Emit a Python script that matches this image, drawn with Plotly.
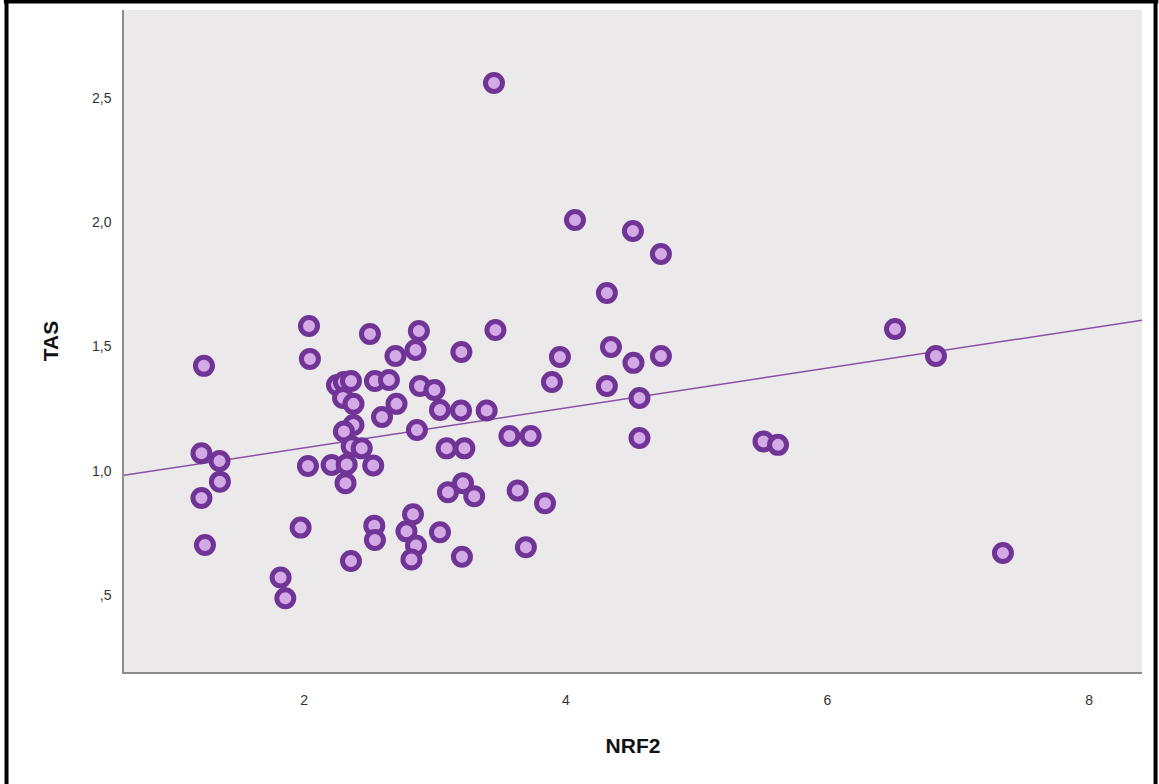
import numpy as np
import plotly.graph_objects as go

# NRF2 (x) and TAS (y) values
nrf2 = [3.451, 4.070, 4.513, 4.727, 4.314, 2.037, 2.503, 2.877, 3.462, 6.516,
        1.234, 2.044, 2.698, 2.851, 3.202, 3.955, 4.345, 4.517, 4.727, 6.829,
        2.251, 2.304, 2.358, 2.541, 2.648, 2.297, 2.377, 2.595, 2.706, 2.885,
        2.996, 3.038, 3.199, 3.395, 3.894, 4.314, 4.563, 2.377, 2.304, 2.862,
        2.363, 2.440, 3.089, 3.225, 3.569, 3.731, 4.563, 5.511, 5.622, 1.215,
        1.353, 1.356, 1.215, 1.242, 2.029, 2.210, 2.325, 2.528, 2.316, 3.214,
        3.099, 3.300, 3.632, 3.841, 1.973, 2.536, 2.541, 2.832, 2.782, 2.855,
        2.820, 3.038, 3.206, 2.358, 3.695, 1.820, 1.856, 7.341]
tas = [2.560, 2.009, 1.965, 1.872, 1.715, 1.582, 1.550, 1.562, 1.566, 1.570,
       1.422, 1.450, 1.462, 1.486, 1.478, 1.458, 1.498, 1.434, 1.462, 1.462,
       1.345, 1.357, 1.361, 1.361, 1.365, 1.293, 1.269, 1.216, 1.269, 1.341,
       1.325, 1.244, 1.242, 1.242, 1.357, 1.341, 1.293, 1.184, 1.158, 1.164,
       1.098, 1.090, 1.090, 1.090, 1.140, 1.140, 1.132, 1.118, 1.104, 1.070,
       1.039, 0.956, 0.890, 0.701, 1.019, 1.023, 1.025, 1.021, 0.950, 0.950,
       0.913, 0.897, 0.920, 0.869, 0.771, 0.779, 0.721, 0.825, 0.756, 0.699,
       0.643, 0.752, 0.654, 0.637, 0.692, 0.570, 0.487, 0.669]

x_tick_vals = [2, 4, 6, 8]
x_tick_text = ["2", "4", "6", "8"]
y_tick_vals = [0.5, 1.0, 1.5, 2.0, 2.5]
y_tick_text = [",5", "1,0", "1,5", "2,0", "2,5"]

x_range = [0.623, 8.404]
y_range = [0.190, 2.854]

# linear fit line across the x range
slope, intercept = np.polyfit(nrf2, tas, 1)
fit_x = np.array(x_range)
fit_y = intercept + slope * fit_x

fig = go.Figure()
fig.add_trace(go.Scatter(
    x=fit_x, y=fit_y, mode="lines",
    line=dict(color="#8A4FA8", width=1.5),
    hoverinfo="skip", showlegend=False))
fig.add_trace(go.Scatter(
    x=nrf2, y=tas, mode="markers",
    marker=dict(size=17, color="#D4AAE6",
                line=dict(color="#6F3495", width=5)),
    showlegend=False))

axis_font = dict(family="Liberation Sans, Arial, sans-serif", size=14, color="#333333")
title_font = dict(family="Liberation Sans, Arial, sans-serif", size=21, color="#111111")

fig.update_layout(
    width=1159, height=784,
    margin=dict(l=124, r=17, t=10, b=112),
    paper_bgcolor="white",
    plot_bgcolor="#EBE9EA",
    xaxis=dict(range=x_range, tickvals=x_tick_vals, ticktext=x_tick_text,
               showgrid=False, zeroline=False, showline=True,
               linecolor="#8C8C8C", linewidth=1.5, ticks="",
               tickfont=axis_font, ticklabelstandoff=14,
               title=dict(text="<b>NRF2</b>", font=title_font, standoff=32)),
    yaxis=dict(range=y_range, tickvals=y_tick_vals, ticktext=y_tick_text,
               showgrid=False, zeroline=False, showline=True,
               linecolor="#8C8C8C", linewidth=1.5, ticks="",
               tickfont=axis_font, ticklabelstandoff=8,
               title=dict(text="<b>TAS</b>", font=title_font, standoff=28)),
    shapes=[
        dict(type="line", xref="paper", yref="paper",
             x0=-0.1154, x1=-0.1154, y0=1.0128, y1=-0.2,
             line=dict(color="black", width=4)),
        dict(type="line", xref="paper", yref="paper",
             x0=1.0133, x1=1.0133, y0=1.0128, y1=-0.2,
             line=dict(color="black", width=4)),
        dict(type="line", xref="paper", yref="paper",
             x0=-0.118, x1=1.016, y0=1.0128, y1=1.0128,
             line=dict(color="black", width=4)),
    ],
)

fig.write_html("out.html", config={"displayModeBar": False},
               post_script="document.body.style.margin='0';")
